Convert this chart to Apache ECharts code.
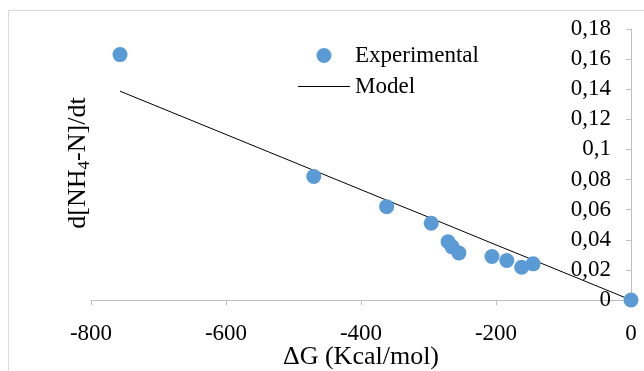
<!DOCTYPE html>
<html>
<head>
<meta charset="utf-8">
<script src="https://cdn.jsdelivr.net/npm/echarts@6/dist/echarts.min.js"></script>
<style>
  html, body { margin: 0; padding: 0; background: #fff; }
  #chart { width: 644px; height: 371px; }
</style>
</head>
<body>
<div id="chart"></div>
<script>
// Reaction rate against Gibbs free energy
const deltaG = [-757, -470, -362, -296, -271, -265, -255, -206, -184, -162, -145, 0];
const rate   = [0.163, 0.082, 0.062, 0.051, 0.0387, 0.0353, 0.0313, 0.0289, 0.0262, 0.0218, 0.024, 0];

// Fitted model line
const modelG    = [-757, -470, -362, -296, -206, -145, 0];
const modelRate = [0.1387, 0.0861, 0.0663, 0.0543, 0.0377, 0.0266, 0];

const xTicks = { min: -800, max: 0, step: 200 };
const yTicks = { min: 0, max: 0.18, step: 0.02 };

const FONT = '"Liberation Serif", "Times New Roman", serif';
const BLUE = '#5b9bd5';
const AXIS = '#bfbfbf';

const chart = echarts.init(document.getElementById('chart'), null, { renderer: 'canvas' });

const commaNum = v => String(+v.toFixed(2)).replace('.', ',');

chart.setOption({
  animation: false,
  backgroundColor: '#fff',
  textStyle: { fontFamily: FONT },
  grid: { left: 91, right: 13, top: 29, bottom: 71, containLabel: false, outerBoundsMode: 'none' },
  legend: {
    left: 298,
    top: 44,
    padding: 0,
    orient: 'vertical',
    itemWidth: 52,
    itemHeight: 15,
    itemGap: 8,
    textStyle: { fontFamily: FONT, fontSize: 23, color: '#000' },
    data: [
      { name: 'Experimental', icon: 'circle' },
      { name: 'Model', icon: 'path://M0,0H52V1H0Z' }
    ]
  },
  xAxis: {
    type: 'value',
    min: xTicks.min,
    max: xTicks.max,
    interval: xTicks.step,
    name: 'ΔG (Kcal/mol)',
    nameLocation: 'middle',
    nameGap: 44,
    nameMoveOverlap: false,
    nameTextStyle: { fontFamily: FONT, fontSize: 26, color: '#000' },
    axisLine: { onZero: false, lineStyle: { color: AXIS, width: 1 } },
    axisTick: { show: true, length: 5, lineStyle: { color: AXIS } },
    axisLabel: { fontFamily: FONT, fontSize: 23, color: '#000', margin: 22 },
    splitLine: { show: false }
  },
  yAxis: {
    type: 'value',
    position: 'right',
    min: yTicks.min,
    max: yTicks.max,
    interval: yTicks.step,
    axisLine: { show: true, onZero: false, lineStyle: { color: AXIS, width: 1 } },
    axisTick: { show: true, inside: true, length: 5, lineStyle: { color: AXIS } },
    axisLabel: {
      inside: true, margin: 20, fontFamily: FONT, fontSize: 23, color: '#000',
      formatter: commaNum
    },
    splitLine: { show: false }
  },
  graphic: [
    {
      type: 'rect',
      silent: true,
      shape: { x: 8.5, y: 10.5, width: 700, height: 400 },
      style: { fill: 'none', stroke: '#d9d9d9', lineWidth: 1 }
    },
    {
      type: 'text',
      x: 78,
      y: 163,
      rotation: Math.PI / 2,
      style: {
        text: '{a|d[NH}{s|4}{a|-N]/dt}',
        align: 'center',
        verticalAlign: 'middle',
        rich: {
          a: { fontFamily: FONT, fontSize: 26, fill: '#000' },
          s: { fontFamily: FONT, fontSize: 17, fill: '#000', padding: [13, 0, 0, 0] }
        }
      }
    }
  ],
  series: [
    {
      name: 'Model',
      type: 'line',
      data: modelG.map((g, i) => [g, modelRate[i]]),
      showSymbol: false,
      symbol: 'none',
      lineStyle: { color: '#000', width: 1 },
      itemStyle: { color: '#000' },
      z: 2
    },
    {
      name: 'Experimental',
      type: 'scatter',
      data: deltaG.map((g, i) => [g, rate[i]]),
      symbol: 'circle',
      symbolSize: 15,
      itemStyle: { color: BLUE, opacity: 1 },
      z: 3
    }
  ]
});
</script>
</body>
</html>
